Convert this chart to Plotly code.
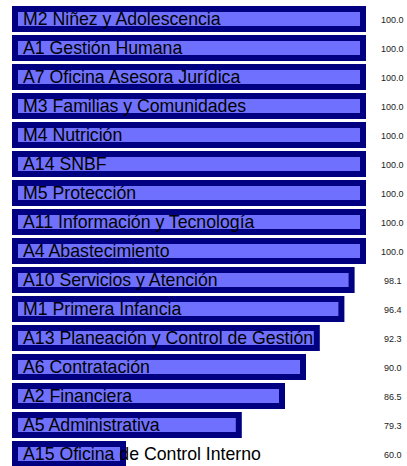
import plotly.graph_objects as go

categories = [
    "M2 Niñez y Adolescencia",
    "A1 Gestión Humana",
    "A7 Oficina Asesora Jurídica",
    "M3 Familias y Comunidades",
    "M4 Nutrición",
    "A14 SNBF",
    "M5 Protección",
    "A11 Información y Tecnología",
    "A4 Abastecimiento",
    "A10 Servicios y Atención",
    "M1 Primera Infancia",
    "A13 Planeación y Control de Gestión",
    "A6 Contratación",
    "A2 Financiera",
    "A5 Administrativa",
    "A15 Oficina de Control Interno",
]
values = [100.0, 100.0, 100.0, 100.0, 100.0, 100.0, 100.0, 100.0, 100.0,
          98.1, 96.4, 92.3, 90.0, 86.5, 79.3, 60.0]
value_labels = [f"{v:.1f}" for v in values]

AXIS_MIN = 42.0

W, H = 407, 466
PX_PER_UNIT = 6.0
BASE_PX = 15.0       # x of the bar base
BAND = 29.0          # px per category
FIRST_TOP = 4.5      # y of the first category band top

fig = go.Figure()
fig.add_trace(go.Bar(
    y=categories,
    x=[v - AXIS_MIN for v in values],
    base=AXIS_MIN,
    orientation="h",
    marker=dict(color="#7070FF", line=dict(color="#000080", width=6)),
    width=20 / BAND,
    hoverinfo="skip",
    showlegend=False,
))

annotations = []
for c, lab in zip(categories, value_labels):
    annotations.append(dict(
        x=AXIS_MIN, y=c, xref="x", yref="y", text=c, showarrow=False,
        xanchor="left", yanchor="middle", xshift=5.7, yshift=0,
        font=dict(family="Liberation Sans, Arial", size=17.7, color="black"),
    ))
    annotations.append(dict(
        x=392.5 / W, y=c, xref="paper", yref="y", text=lab, showarrow=False,
        xanchor="center", yanchor="middle", yshift=-1,
        font=dict(family="Liberation Sans, Arial", size=9, color="#222222"),
    ))

x0 = AXIS_MIN - BASE_PX / PX_PER_UNIT
x1 = AXIS_MIN + (W - BASE_PX) / PX_PER_UNIT
y_top = -0.5 - FIRST_TOP / BAND
y_bot = -0.5 + (H - FIRST_TOP) / BAND

fig.update_layout(
    width=W, height=H,
    margin=dict(l=0, r=0, t=0, b=0),
    paper_bgcolor="white", plot_bgcolor="white",
    xaxis=dict(range=[x0, x1], visible=False, fixedrange=True),
    yaxis=dict(type="category", categoryorder="array", categoryarray=categories,
               range=[y_bot, y_top], visible=False, fixedrange=True),
    annotations=annotations,
)
fig.write_html(
    "out.html",
    config={"displayModeBar": False},
    post_script="document.body.style.margin='0';document.body.style.overflow='hidden';",
)
